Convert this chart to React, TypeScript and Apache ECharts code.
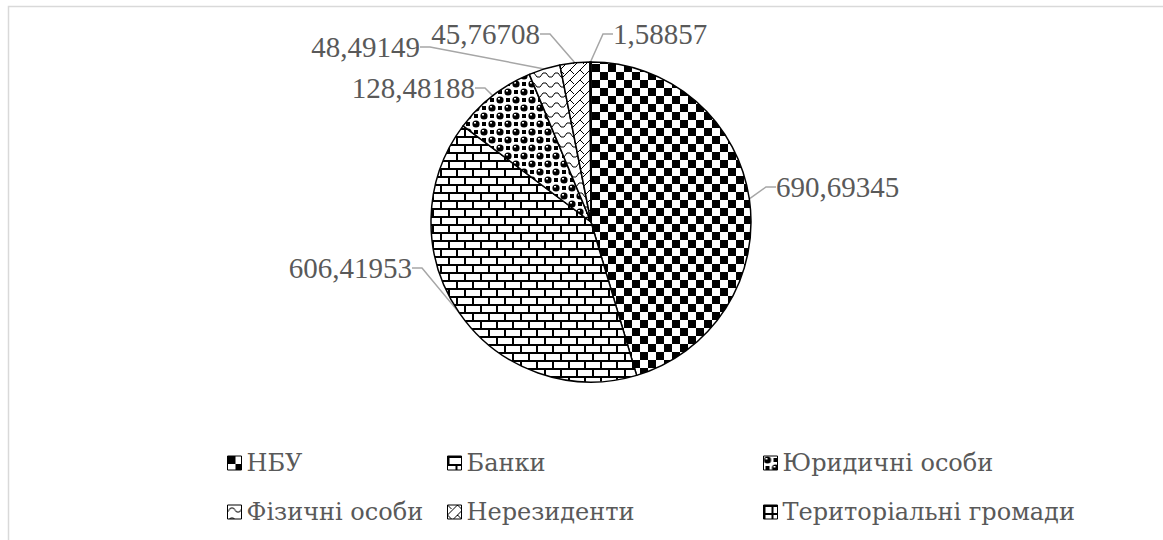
import React, { useEffect, useRef } from "react";
import * as echarts from "echarts";

const categories = ["НБУ", "Банки", "Юридичні особи", "Фізичні особи", "Нерезиденти", "Територіальні громади"];
const values = [690.69345, 606.41953, 128.48188, 48.49149, 45.76708, 1.58857];
const legendColumns = [
  ["НБУ", "Фізичні особи"],
  ["Банки", "Нерезиденти"],
  ["Юридичні особи", "Територіальні громади"],
];

const FONT = "Liberation Serif";
const LEGEND_FONT = "DejaVu Serif";
const TEXT = "#595959";

function makePattern(w: number, h: number, draw: (ctx: CanvasRenderingContext2D) => void) {
  const c = document.createElement("canvas");
  c.width = w;
  c.height = h;
  const ctx = c.getContext("2d")!;
  ctx.fillStyle = "#fff";
  ctx.fillRect(0, 0, w, h);
  ctx.fillStyle = "#000";
  ctx.strokeStyle = "#000";
  draw(ctx);
  return { image: c, repeat: "repeat", imageWidth: w, imageHeight: h } as any;
}

function buildPatterns() {
  const checker = makePattern(16, 16, (ctx) => {
    ctx.fillRect(0, 0, 8, 8);
    ctx.fillRect(8, 8, 8, 8);
  });
  const brick = makePattern(16, 16, (ctx) => {
    ctx.fillRect(0, 0, 16, 2);
    ctx.fillRect(0, 8, 16, 2);
    ctx.fillRect(0, 0, 2, 8);
    ctx.fillRect(8, 8, 2, 8);
  });
  const spheres = makePattern(16, 16, (ctx) => {
    const dot = (x: number, y: number) => {
      ctx.fillStyle = "#000";
      ctx.beginPath();
      ctx.arc(x, y, 3.6, 0, Math.PI * 2);
      ctx.fill();
      ctx.fillStyle = "#fff";
      ctx.fillRect(x - 2, y - 2, 2, 1.5);
    };
    dot(4, 4);
    dot(12, 12);
    ctx.fillStyle = "#000";
    ctx.fillRect(10, 2, 4, 4);
    ctx.fillRect(2, 10, 4, 4);
  });
  const wave = makePattern(12, 10, (ctx) => {
    ctx.lineWidth = 1;
    ctx.beginPath();
    ctx.moveTo(0, 7);
    ctx.lineTo(3, 3);
    ctx.lineTo(6, 3);
    ctx.lineTo(9, 7);
    ctx.lineTo(12, 7);
    ctx.stroke();
  });
  const zig = makePattern(10, 10, (ctx) => {
    ctx.lineWidth = 1;
    ctx.beginPath();
    ctx.moveTo(0, 10);
    ctx.lineTo(10, 0);
    ctx.moveTo(0, 0);
    ctx.lineTo(4, 4);
    ctx.stroke();
  });
  const plaid = makePattern(8, 8, (ctx) => {
    ctx.fillRect(0, 0, 8, 2);
    ctx.fillRect(0, 0, 2, 8);
  });
  return [checker, brick, spheres, wave, zig, plaid];
}

// label anchor layout (x, y, align) per slice
const labelSpots: [number, number, string][] = [
  [776, 187, "left"],
  [412, 268, "right"],
  [475, 88, "right"],
  [420, 47, "right"],
  [540, 34, "right"],
  [613, 34, "left"],
];

export default function App() {
  const ref = useRef<HTMLDivElement>(null);
  useEffect(() => {
    const chart = echarts.init(ref.current!, null, { renderer: "svg" });
    const patterns = buildPatterns();
    const legendLefts = [222, 442, 758];
    const legendText = { fontFamily: LEGEND_FONT, fontSize: 24, color: TEXT, lineHeight: 30 };
    chart.setOption({
      animation: false,
      backgroundColor: "#fff",
      textStyle: { fontFamily: FONT },
      graphic: [
        {
          type: "rect",
          shape: { x: 8.5, y: 6.5, width: 1300, height: 700 },
          style: { fill: "none", stroke: "#d9d9d9", lineWidth: 1.5 },
          silent: true,
        },
      ],
      legend: legendColumns.map((col, i) => ({
        orient: "vertical",
        left: legendLefts[i],
        top: 443,
        itemGap: 19,
        itemWidth: 14,
        itemHeight: 14,
        icon: "rect",
        selectedMode: false,
        data: col,
        itemStyle: { borderColor: "#000", borderWidth: 1 },
        textStyle: legendText,
      })),
      series: [
        {
          type: "pie",
          center: [591, 222],
          radius: 160,
          startAngle: 90,
          clockwise: true,
          silent: true,
          avoidLabelOverlap: false,
          itemStyle: { borderColor: "#000", borderWidth: 1.5 },
          label: {
            show: true,
            position: "outside",
            fontFamily: FONT,
            fontSize: 29,
            color: TEXT,
            formatter: (p: any) => values[p.dataIndex].toFixed(5).replace(".", ","),
          },
          labelLine: { show: true, length: 15, length2: 10, lineStyle: { color: "#a6a6a6", width: 1.5 } },
          labelLayout: (p: any) => {
            const s = labelSpots[p.dataIndex];
            return { x: s[0], y: s[1], align: s[2], verticalAlign: "middle" };
          },
          emphasis: { disabled: true },
          data: categories.map((name, i) => ({
            name,
            value: values[i],
            itemStyle: { color: patterns[i] },
          })),
        },
      ],
    });
    return () => chart.dispose();
  }, []);
  return <div ref={ref} style={{ position: "absolute", left: 0, top: 0, width: 1163, height: 540 }} />;
}
